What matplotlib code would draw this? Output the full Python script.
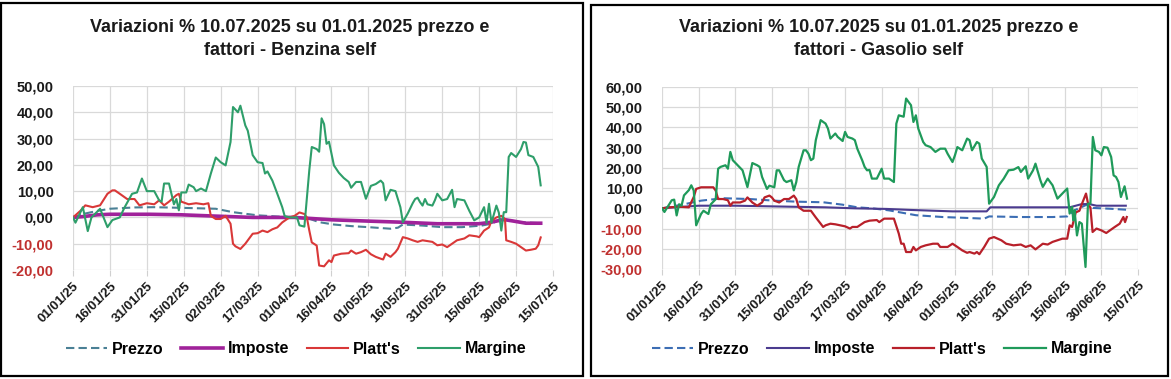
import numpy as np
import matplotlib
matplotlib.use("Agg")
import matplotlib.pyplot as plt
import matplotlib.dates as mdates
from matplotlib.patches import Rectangle
from matplotlib.lines import Line2D

# ======================
# DATA (days since 01/01/2025, values in %)
# ======================
benz_margine_days = [0, 1, 4, 6, 7.5, 11, 14, 16, 19, 21, 24, 26, 28, 30, 33, 35, 36, 37, 39, 41, 42, 43, 44, 46,
                     47, 49, 50, 52, 54, 56, 58, 60, 62, 64, 65, 67, 68, 70, 71, 73, 75, 77, 78, 79, 81, 83, 85,
                     86, 88, 91, 92, 94, 96, 97, 99, 100, 101, 102, 103, 104, 106, 108, 110, 112, 113, 115, 117,
                     119, 121, 123, 125, 126, 127, 129, 131, 133, 134, 136, 138, 139, 140, 141, 142, 143, 144, 146,
                     147, 148, 150, 152, 154, 155, 156, 159, 161, 163, 165, 167, 168, 169, 170, 172, 173, 174, 175,
                     176, 177, 178, 180, 182, 183, 184, 185, 187, 189, 190]
benz_margine = [0, -2, 3.9, -5.2, 0, 3.3, -3.7, -1, 0, 3.9, 9, 9.5, 14.8, 10, 10, 6.5, 6, 12.9, 12.9, 5, 7, 2.7,
                9.5, 9.5, 12.5, 11.5, 10, 11, 10, 16.7, 22.8, 21, 19.8, 28.7, 42, 40, 42.5, 35, 33, 23.7, 21,
                20.7, 16.7, 17.5, 14, 9, 3.9, 0.5, 0, 0, -3, -3.5, 18, 26.8, 26, 25, 37.7, 35.5, 28, 28.8, 19.8,
                17, 15, 13.5, 11.3, 13.5, 13.5, 7.1, 12, 12.7, 14, 13, 6.5, 10.5, 10, 3.9, -1.8, 1.5, 5.4, 7,
                7.5, 5.8, 4.5, 7, 5, 4.5, 6.5, 9, 6.5, 7, 10.5, 3.9, 7, 6.5, 2.5, -1.1, 0, 3.9, -2, 5.2, -2,
                4.5, 1.8, -5, 2, 2, 23, 24.5, 23, 26, 28.7, 28.5, 23.7, 23, 19.2, 12.2]

benz_platts_days = [0, 3, 5, 8, 11, 14, 16, 17, 19, 22, 25, 27, 30, 33, 35, 37, 39, 42, 43, 44, 47, 50, 53, 55,
                    56, 58, 60, 62, 64, 65, 66, 68, 70, 73, 75, 77, 79, 81, 83, 85, 87, 88, 90, 92, 94, 95, 96,
                    97, 99, 100, 102, 104, 105, 106, 109, 112, 113, 115, 117, 119, 121, 123, 125, 126, 127, 129,
                    131, 132, 134, 136, 138, 140, 142, 144, 146, 148, 150, 152, 154, 156, 159, 161, 164, 165, 167,
                    169, 170, 172, 174, 175.5, 176, 178, 180, 182, 184, 186, 188, 189, 190]
benz_platts = [0, 2.5, 4.6, 3.9, 4.6, 9, 10.3, 10.3, 9, 7, 7, 4.6, 5.4, 5, 6.5, 4.6, 6, 8.5, 9, 6, 5, 5.4, 5,
               5.4, 0.6, -0.6, -0.6, 0.6, -2.4, -10, -11, -12, -10, -6.2, -6, -5, -5.6, -4.5, -3.8, -1.9, -0.6,
               0, 0.6, 1.9, 1.3, 0, -5, -9.5, -10.7, -18.3, -18.6, -16.3, -17, -14.5, -13.8, -13.6, -12.6,
               -13.8, -13.2, -12.3, -14, -15, -15.7, -16, -13.8, -15, -13.2, -11.9, -7.5, -8, -8.7, -9.3,
               -8.7, -9, -9.3, -10.6, -10.3, -11.3, -10, -8.7, -8, -6.8, -7.2, -7.5, -5, -3.8, -1.3, 0, 0.6,
               -0.6, -8.7, -9.3, -10, -11.3, -12.6, -12.3, -11.9, -10.6, -7.6]

benz_prezzo_days = [0, 5, 10, 15, 25, 33, 46, 58, 65, 75, 84, 88, 96, 100, 106, 113, 120, 129, 132, 134, 142,
                    150, 158, 166, 170, 174, 176, 182, 190]
benz_prezzo = [0, 1.5, 2.5, 3.3, 3.8, 3.9, 3.6, 3.3, 2, 0.8, 0.3, 0, -0.5, -1.8, -2.7, -3.3, -3.7, -4.3, -3.9,
               -2.7, -3.1, -3.7, -3.7, -3.1, -2.4, -0.5, -0.9, -1.8, -2.2]

benz_imposte_days = [0, 4, 10, 15, 31, 44, 58, 73, 90, 105, 120, 133, 148, 165, 170, 175, 179, 184, 190]
benz_imposte = [0, 0.3, 1, 1.2, 1.2, 1, 0.5, 0, 0, -0.9, -1.4, -1.8, -2.4, -2.4, -1.8, -0.8, -1.4, -2.2, -2.2]

gas_margine_days = [0, 1, 3, 4, 5, 6, 7, 8, 9, 11, 12, 13, 14, 16, 17, 19, 20, 22, 23, 24, 26, 27, 28, 29, 31,
                    33, 35, 37, 39, 40, 41, 43, 44, 46, 47, 48, 50, 51, 53, 54, 55, 56, 58, 59, 60, 61, 62, 63,
                    65, 67, 68, 69, 71, 72, 74, 75, 76, 78, 79, 80, 82, 83, 84, 85, 86, 88, 90, 91, 93, 95, 96,
                    97, 99, 100, 101, 102, 103, 104, 105, 107, 108, 110, 112, 114, 116, 117, 119, 120, 121, 123,
                    125, 126, 127, 129, 130, 131, 133, 134, 136, 138, 140, 142, 144, 146, 147, 149, 150, 152,
                    153, 155, 156, 158, 160, 162, 164, 166, 167, 168, 168.5, 169, 170, 171, 172, 173.5, 174.5,
                    175.5, 176.5, 177.5, 179, 180, 181, 182.5, 184, 185, 186, 187, 188, 189.5, 190.5]
gas_margine = [0, -1.8, 2, 4, 4.3, -3.5, 2, 1.3, 6.4, 9, 11.4, 8.8, -8.4, -2.8, -1.2, -2.8, 2, 4.5, 19.6,
               20.5, 21.3, 19.6, 27.9, 23.8, 21.3, 18.8, 10.5, 22.4, 21.3, 20.5, 15.5, 9.6, 11.2, 10.4, 18.8,
               18.8, 13.9, 13, 13.9, 8.9, 13, 20.5, 28.7, 28.7, 27, 23.8, 24.6, 33.7, 43.6, 41.9, 39.4, 34.5,
               37, 35.3, 33.3, 37.8, 35.3, 34.5, 33.7, 29.5, 23.8, 20.5, 18.8, 19, 14.7, 14.7, 19.6, 14.7,
               14.7, 13, 41.9, 46, 45.3, 54.3, 52.6, 51, 42.7, 46, 39.4, 32.8, 31.2, 30.3, 27.9, 29.5, 29.5,
               27, 22.9, 26.2, 30.3, 28.7, 34.5, 33.7, 28.7, 32.8, 32, 24.6, 20.5, 2.3, 5.6, 11.4, 14.7, 18.8,
               19.1, 20.4, 18, 20.8, 14.7, 18.8, 22.1, 13.9, 10.6, 14.7, 11.4, 4.8, 7.3, 9.8, -2.6, 0.7, -5.9,
               -0.9, -13.4, -6.8, -7.6, -29, 2.3, 2.3, 35.3, 28.7, 27.9, 26.2, 30.3, 30, 25.4, 16.3, 15.5, 13,
               5.6, 10.9, 4.8]

gas_platts_days = [0, 3, 7, 11, 13, 14, 16, 21, 22, 23, 25, 27, 28, 29, 32, 34, 35, 37, 39, 41, 42, 44, 45, 46,
                   48, 50, 52, 54, 55, 56, 58, 61, 63, 65, 66, 67, 69, 71, 73, 75, 77, 78, 80, 82, 83, 85, 88,
                   89, 91, 95, 97, 98, 99, 100, 102, 103, 104, 106, 108, 111, 113, 114, 117, 119, 121, 123, 125,
                   126, 128, 129, 130, 132, 134, 136, 139, 141, 144, 147, 149, 151, 153, 156, 158, 160, 162, 164,
                   166, 167, 168, 169.5, 171, 172, 173.7, 174.7, 175.5, 176.4, 178, 180, 182, 183.5, 185.5,
                   187.5, 189, 189.7, 190.4]
gas_platts = [0, 0.5, 0.8, 0.5, 5.6, 9.6, 10.4, 10.4, 8.8, 4.6, 4.6, 4, 1.3, 2.9, 2.9, 3.8, 5.4, 2.9, 1.3, 2.9,
              5.4, 6.3, 5.4, 3.8, 2.9, 4.6, 4.6, 6.3, 4.6, 0.5, -1.2, -1.2, -4.5, -7.6, -9.2, -8.4, -7.6, -7.9,
              -8.4, -8.9, -10, -9.2, -9.2, -7.6, -6.8, -6.1, -5.8, -6.8, -5.1, -5.1, -12.5, -17.5, -17.5, -21.6,
              -21.6, -19.1, -20.8, -19.1, -18.3, -17.5, -17.5, -19.1, -19.1, -17.5, -19.1, -20.8, -22, -21.6,
              -22.4, -21.6, -22.7, -19.1, -15, -14.2, -15.8, -17.5, -18.3, -17.9, -19.1, -18.3, -20.3, -17.5,
              -17.9, -16.6, -15.8, -15, -15, -8.4, -9.2, -2, -1.2, 2.1, 7.3, 1.3, 0.5, -11.7, -10, -10.9,
              -12.2, -10.9, -9.2, -7.6, -4.3, -6.8, -4.3]

gas_prezzo_days = [0, 9, 16, 25, 36, 46, 55, 66, 74, 80, 86, 93, 104, 115, 126, 132, 134, 147, 160, 166, 169.5,
                   174, 176.6, 183.5, 190.4]
gas_prezzo = [0, 2, 3.8, 5, 4.6, 3.8, 3.3, 3, 1.8, 0.5, 0, -1, -3.4, -4.3, -4.8, -5.1, -4, -4.3, -4.3, -4,
              -0.7, 1.8, 0.2, -0.2, -0.7]

gas_imposte_days = [0, 5, 15, 30, 53, 67, 79, 92, 102, 119, 133, 134.5, 153, 167, 172, 175, 178, 190]
gas_imposte = [0, 0.5, 1.3, 1.3, 0.8, 0.5, 0, -0.3, -0.8, -1.5, -1.5, 0.5, 0.5, 0.5, 2.1, 2.1, 1.3, 1.3]

labels = ["Prezzo", "Imposte", "Platt's", "Margine"]

# ======================
# STYLE
# ======================
FONT = ["Liberation Sans", "DejaVu Sans"]
W, H = 1171, 379
start = mdates.date2num(np.datetime64("2025-01-01"))


def to_x(days):
    return start + np.array(days, dtype=float)


fig = plt.figure(figsize=(W / 100, H / 100), dpi=100)

# panel borders
fig.patches.append(Rectangle((1 / W, 1 - 376 / H), 582 / W, 373 / H, transform=fig.transFigure,
                             fill=False, edgecolor="black", linewidth=1.6))
fig.patches.append(Rectangle((591 / W, 1 - 376 / H), 577 / W, 371 / H, transform=fig.transFigure,
                             fill=False, edgecolor="black", linewidth=1.6))


def panel(rect, series, colors, widths, ylim, title, title_x, legend_x):
    ax = fig.add_axes(rect)
    styles = ["--", "-", "-", "-"]
    handles = []
    for (d, v), c, lw, ls in zip(series, colors, widths, styles):
        if ls == "--":
            ax.plot(to_x(d), v, color=c, lw=lw, dashes=(4, 2))
            handles.append(Line2D([], [], color=c, lw=lw, dashes=(4, 2)))
        else:
            ax.plot(to_x(d), v, color=c, lw=lw)
            handles.append(Line2D([], [], color=c, lw=lw))
    ax.set_xlim(start, start + 195)
    ax.set_ylim(*ylim)
    ax.set_xticks([start + 15 * k for k in range(14)])
    ax.xaxis.set_major_formatter(mdates.DateFormatter("%d/%m/%y"))
    yt = list(range(ylim[0], ylim[1] + 1, 10))
    ax.set_yticks(yt)
    ax.set_yticklabels([f"{v:.2f}".replace(".", ",") for v in yt])
    for t, v in zip(ax.get_yticklabels(), yt):
        t.set_fontweight("bold")
        t.set_fontfamily(FONT)
        t.set_fontsize(10.5)
        t.set_color("#C0302F" if v < 0 else "#1a1a1a")
    for t in ax.get_xticklabels():
        t.set_rotation(45)
        t.set_ha("right")
        t.set_va("top")
        t.set_rotation_mode("anchor")
        t.set_fontweight("bold")
        t.set_fontfamily(FONT)
        t.set_fontsize(9.5)
        t.set_color("#1a1a1a")
    ax.tick_params(axis="y", length=0, pad=14)
    ax.tick_params(axis="x", length=4, color="#D0D0D0", pad=3)
    ax.grid(True, color="#D9D9D9", lw=0.9)
    ax.set_axisbelow(True)
    for s in ax.spines.values():
        s.set_visible(False)
    fig.text(title_x, 1 - 39 / H, title, ha="center", va="center", fontsize=13,
             fontweight="bold", family=FONT, color="#1a1a1a", linespacing=1.4)
    fig.legend(handles, labels, loc="center", bbox_to_anchor=(legend_x, 1 - 349 / H), ncol=4, frameon=False,
               prop={"family": FONT, "weight": "bold", "size": 11.5}, handlelength=2.6, handletextpad=0.3,
               columnspacing=1.1)
    return ax


panel([73 / W, 1 - 270 / H, 480 / W, 184 / H],
      [(benz_prezzo_days, benz_prezzo), (benz_imposte_days, benz_imposte),
       (benz_platts_days, benz_platts), (benz_margine_days, benz_margine)],
      ["#4A8095", "#A0229A", "#D93838", "#2E9E6A"], [1.5, 2.6, 1.5, 1.5], (-20, 50),
      "Variazioni % 10.07.2025 su 01.01.2025 prezzo e\nfattori - Benzina self", 290 / W, 296 / W)

panel([662 / W, 1 - 269 / H, 476 / W, 182 / H],
      [(gas_prezzo_days, gas_prezzo), (gas_imposte_days, gas_imposte),
       (gas_platts_days, gas_platts), (gas_margine_days, gas_margine)],
      ["#3C6EB4", "#4B3B8F", "#B8202A", "#1F9A5A"], [1.5, 1.5, 1.6, 1.6], (-30, 60),
      "Variazioni % 10.07.2025 su 01.01.2025 prezzo e\nfattori - Gasolio self", 879 / W, 882 / W)

fig.savefig("out.png", dpi=100)
